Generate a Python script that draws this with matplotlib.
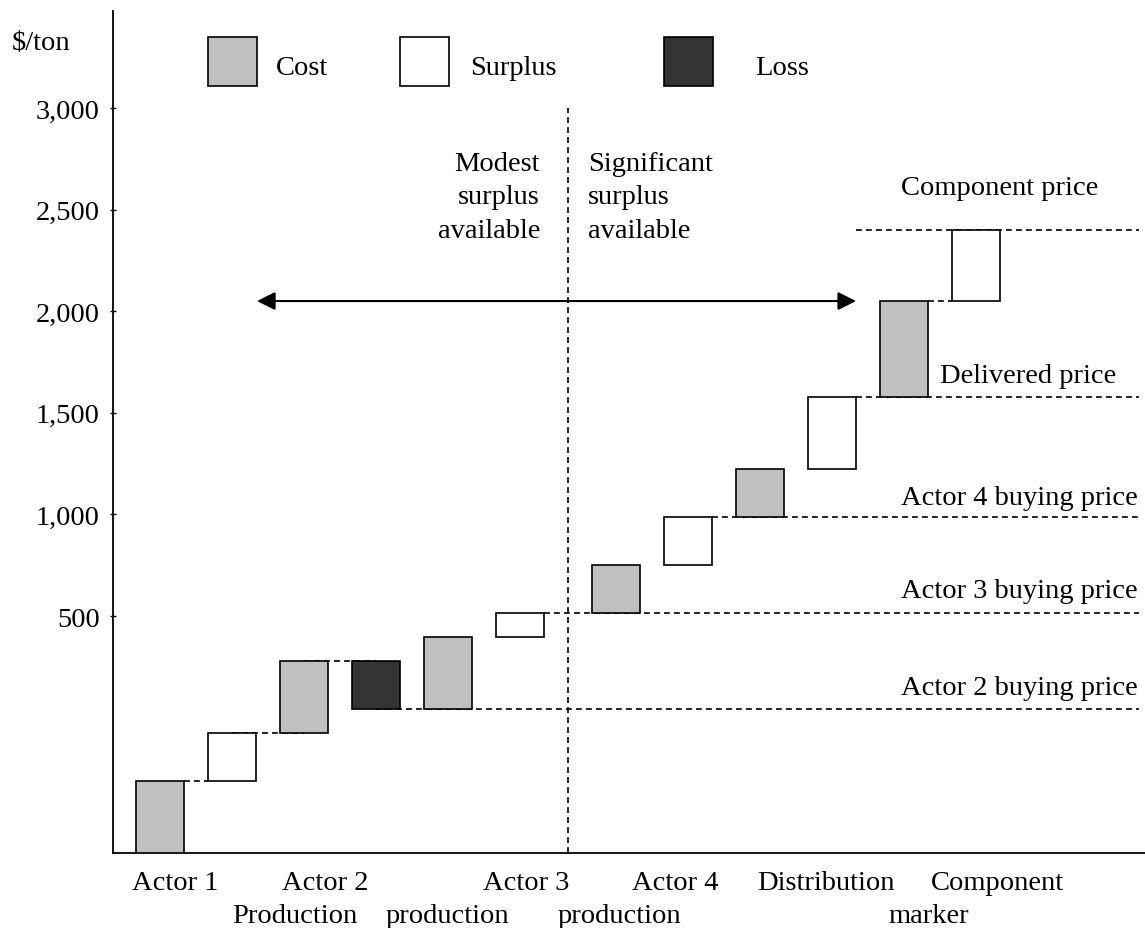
import matplotlib
matplotlib.use("Agg")
import matplotlib.pyplot as plt
from matplotlib.patches import Rectangle
from matplotlib.transforms import blended_transform_factory

# ---------------- data ----------------
bar_kinds = ['Cost', 'Surplus', 'Cost', 'Loss', 'Cost', 'Surplus',
             'Cost', 'Surplus', 'Cost', 'Surplus', 'Cost', 'Surplus']
bar_bottoms = [-666, -312, -76, 42, 42, 397, 515, 751, 987, 1223, 1578, 2050]
bar_tops = [-312, -76, 279, 279, 397, 515, 751, 987, 1223, 1578, 2050, 2400]

ref_labels = ['Component price', 'Delivered price', 'Actor 4 buying price',
              'Actor 3 buying price', 'Actor 2 buying price']
ref_values = [2400, 1578, 987, 515, 42]

connector_values = [-312, -76, 279, 2050]

y_ticks = [500, 1000, 1500, 2000, 2500, 3000]

stage_row1 = ['Actor 1', 'Actor 2', 'Actor 3', 'Actor 4', 'Distribution', 'Component']
stage_row2 = ['Production', 'production', 'production', 'marker']

legend_labels = ['Cost', 'Surplus', 'Loss']
colors = {'Cost': '#c0c0c0', 'Surplus': '#ffffff', 'Loss': '#333333'}

# ---------------- layout ----------------
W, H = 1145, 929
plt.rcParams['font.family'] = ['Liberation Serif', 'DejaVu Serif']
FS = 20.5

fig = plt.figure(figsize=(W / 100, H / 100), dpi=100)
ax = fig.add_axes([113 / W, (H - 854) / H, (1145 - 113) / W, (854 - 12) / H])
ax.set_xlim(-0.653, 13.68)
ax.set_ylim(-666.3, 3477.4)

positions = [i if i < 6 else i + 1 / 3 for i in range(len(bar_kinds))]
bw = 0.667

for x, b, t, k in zip(positions, bar_bottoms, bar_tops, bar_kinds):
    ax.bar(x, t - b, bottom=b, width=bw, color=colors[k], edgecolor='black',
           linewidth=1.2, zorder=3)

dash = (0, (3.5, 2.5))
# reference price lines
line_starts = [positions[9] + bw / 2, positions[9] + bw / 2, positions[7] + bw / 2,
               positions[5] + bw / 2, positions[3]]
for v, xs in zip(ref_values, line_starts):
    ax.hlines(v, xs, 13.6, colors='black', linestyles=dash, linewidth=1.2, zorder=2)

# connectors between bars
conn_x = [(positions[0] + bw / 2, positions[1] - bw / 2),
          (positions[1], positions[2]),
          (positions[2], positions[3]),
          (positions[10] + bw / 2, positions[11] - bw / 2)]
for v, (x0, x1) in zip(connector_values, conn_x):
    ax.hlines(v, x0, x1, colors='black', linestyles=dash, linewidth=1.2, zorder=2)

# divider
ax.vlines(5.667, ax.get_ylim()[0], 3000, colors='black', linestyles=dash,
          linewidth=1.2, zorder=2)

# double arrow
ax.annotate('', xy=(1.347, 2050), xytext=(9.667, 2050),
            arrowprops=dict(arrowstyle='<|-|>,head_length=1.1,head_width=0.55',
                            mutation_scale=10, color='black', lw=1.5,
                            shrinkA=0, shrinkB=0))

# axes styling
for s in ['top', 'right']:
    ax.spines[s].set_visible(False)
ax.spines['left'].set_linewidth(1.3)
ax.spines['bottom'].set_linewidth(1.3)
ax.set_xticks([])
ax.set_yticks(y_ticks)
ax.set_yticklabels([f'{v:,}' for v in y_ticks], fontsize=FS)
ax.tick_params(axis='y', direction='inout', length=4, width=1.0, pad=7.5)


def ftext(xp, yp, s, **kw):
    fig.text(xp / W, 1 - yp / H, s, fontsize=FS, va='baseline', **kw)


ftext(12, 50, r'\$/ton', ha='left')

# legend
leg_sq_x = [208, 400, 664]
leg_txt_x = [276, 470, 755]
for lab, sx, tx in zip(legend_labels, leg_sq_x, leg_txt_x):
    fig.add_artist(Rectangle((sx / W, 1 - 87 / H), 49 / W, 49 / H,
                             transform=fig.transFigure, facecolor=colors[lab],
                             edgecolor='black', linewidth=1.2))
    ftext(tx, 75, lab, ha='left')

# region notes
for i, s in enumerate(['Modest', 'surplus', 'available']):
    ftext(540, 171 + 33.5 * i, s, ha='right')
for i, s in enumerate(['Significant', 'surplus', 'available']):
    ftext(588, 171 + 33.5 * i, s, ha='left')

# reference labels
ref_text_x = [901, 940, 901, 901, 901]
ref_text_y = [195, 383, 505, 598, 695]
for lab, tx, ty in zip(ref_labels, ref_text_x, ref_text_y):
    ftext(tx, ty, lab, ha='left')

# stage labels below axis
row1_x = [175, 325, 526, 675, 826, 997]
row2_x = [295, 447, 619, 929]
for lab, tx in zip(stage_row1, row1_x):
    ftext(tx, 890, lab, ha='center')
for lab, tx in zip(stage_row2, row2_x):
    ftext(tx, 923, lab, ha='center')

fig.savefig('out.png', dpi=100)
